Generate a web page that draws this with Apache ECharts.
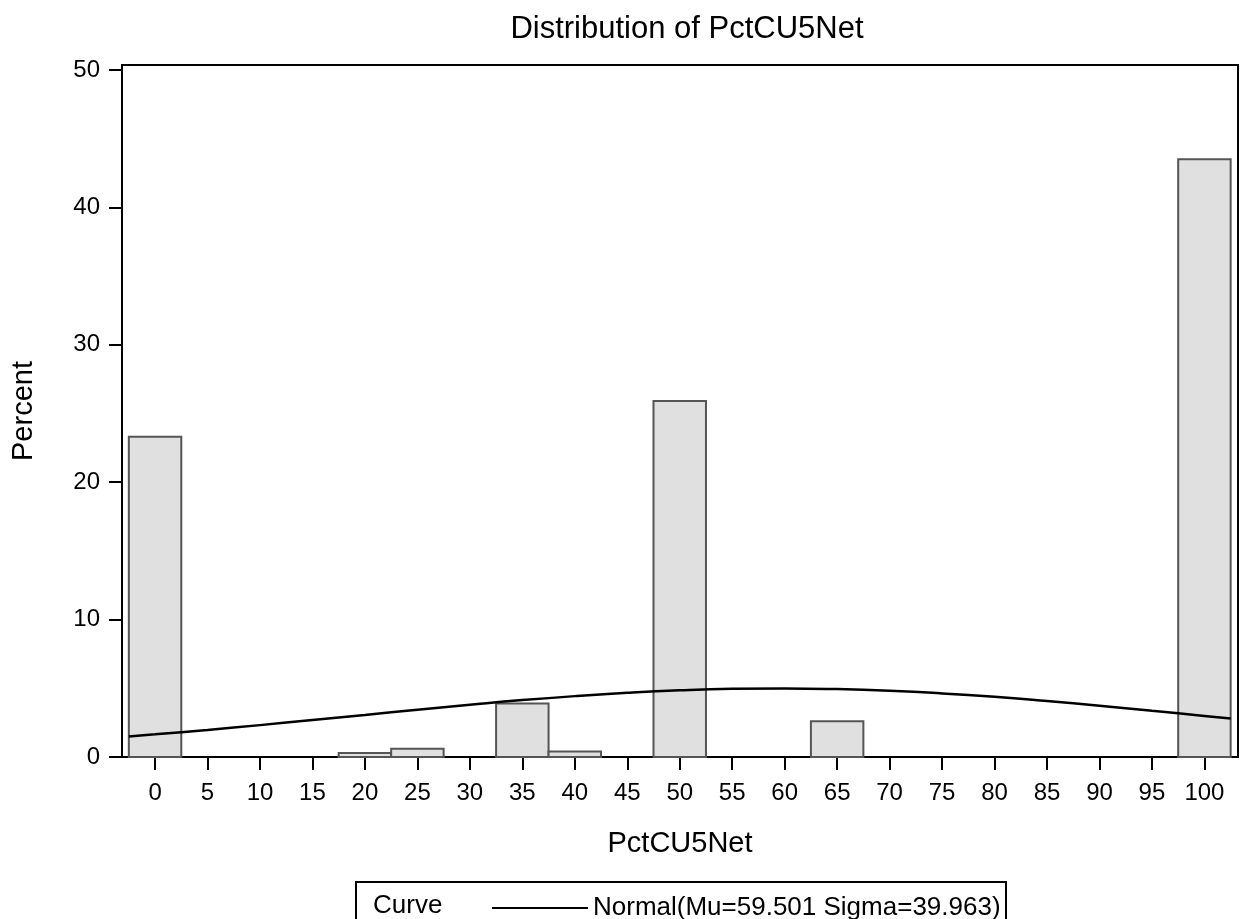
<!DOCTYPE html>
<html>
<head>
<meta charset="utf-8">
<script src="https://cdn.jsdelivr.net/npm/echarts@6/dist/echarts.min.js"></script>
<style>
html,body{margin:0;padding:0;background:#fff;}
#chart{width:1242px;height:919px;}
</style>
</head>
<body>
<div id="chart"></div>
<script>
// Histogram bins (midpoints) and percents
const binMid = [0, 20, 25, 35, 40, 50, 65, 100];
const binPct = [23.3, 0.3, 0.6, 3.9, 0.4, 25.9, 2.6, 43.5];
const binWidth = 5;
// Normal curve points
const curveX = [-2.5, 0, 5, 10, 15, 20, 25, 30, 35, 40, 45, 50, 55, 60, 65, 70, 75, 80, 85, 90, 95, 100, 102.5];
const curveY = [1.50, 1.65, 1.97, 2.32, 2.69, 3.06, 3.44, 3.80, 4.14, 4.43, 4.67, 4.85, 4.96, 4.99, 4.94, 4.82, 4.63, 4.38, 4.07, 3.73, 3.36, 2.99, 2.80];
const xTicks = [0,5,10,15,20,25,30,35,40,45,50,55,60,65,70,75,80,85,90,95,100];
const yTicks = [0,10,20,30,40,50];

const FONT = 'Liberation Sans, Arial, Helvetica, sans-serif';
const chart = echarts.init(document.getElementById('chart'), null, {renderer:'canvas'});

const bars = binMid.map((m,i)=>[m - binWidth/2, m + binWidth/2, binPct[i]]);
const curve = curveX.map((x,i)=>[x, curveY[i]]);

chart.setOption({
  animation:false,
  backgroundColor:'#fff',
  title:{
    text:'Distribution of PctCU5Net',
    left:682, top:9, textAlign:'center',
    textStyle:{fontFamily:FONT,fontSize:31,fontWeight:'normal',color:'#000'}
  },
  grid:{left:122,right:4,top:65,bottom:162,show:true,borderColor:'#000',borderWidth:2,backgroundColor:'transparent'},
  xAxis:{
    type:'value', min:-3.15, max:103.2,
    name:'PctCU5Net', nameLocation:'middle', nameGap:72,
    nameTextStyle:{fontFamily:FONT,fontSize:29,color:'#000'},
    axisLine:{show:true,onZero:false,lineStyle:{color:'#000',width:2}},
    axisTick:{show:true,length:13,lineStyle:{color:'#000',width:2},customValues:xTicks},
    axisLabel:{fontFamily:FONT,fontSize:24,color:'#000',margin:24,customValues:xTicks},
    splitLine:{show:false}
  },
  yAxis:{
    type:'value', min:0, max:50.36,
    name:'Percent', nameLocation:'middle', nameGap:84, nameRotate:90,
    nameTextStyle:{fontFamily:FONT,fontSize:29,color:'#000'},
    axisLine:{show:true,onZero:false,lineStyle:{color:'#000',width:2}},
    axisTick:{show:true,length:13,lineStyle:{color:'#000',width:2},customValues:yTicks},
    axisLabel:{fontFamily:FONT,fontSize:24,color:'#000',margin:22,customValues:yTicks},
    splitLine:{show:false}
  },
  legend:{
    show:true,
    data:[{name:'Normal(Mu=59.501 Sigma=39.963)'}],
    left:487, top:890,
    itemWidth:96, itemHeight:2, itemGap:6,
    icon:'rect',
    textStyle:{fontFamily:FONT,fontSize:26,color:'#000'},
    selectedMode:false
  },
  graphic:[
    {type:'rect',shape:{x:356,y:882,width:650,height:45},style:{fill:'none',stroke:'#000',lineWidth:2},z:10},
    {type:'text',x:373,y:906,style:{text:'Curve',font:'26px '+FONT,fill:'#000',textVerticalAlign:'middle'},z:10}
  ],
  series:[
    {
      type:'custom',
      name:'bars',
      data:bars,
      encode:{x:[0,1],y:2},
      renderItem:function(params, api){
        const p0 = api.coord([api.value(0), api.value(2)]);
        const p1 = api.coord([api.value(1), 0]);
        return {
          type:'rect',
          shape:{x:p0[0], y:p0[1], width:p1[0]-p0[0], height:p1[1]-p0[1]},
          style:{fill:'#e0e0e0', stroke:'#555555', lineWidth:2}
        };
      },
      z:2
    },
    {
      type:'line',
      name:'Normal(Mu=59.501 Sigma=39.963)',
      data:curve,
      smooth:true,
      symbol:'none',
      lineStyle:{color:'#000',width:2.5},
      itemStyle:{color:'#000'},
      z:3
    }
  ]
});
</script>
</body>
</html>
